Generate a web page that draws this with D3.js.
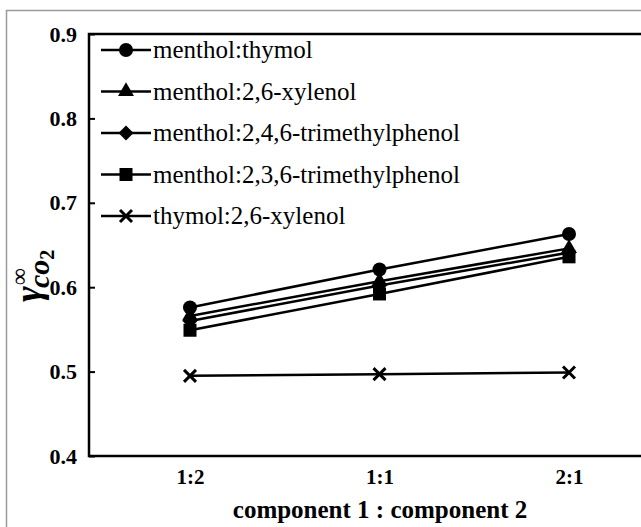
<!DOCTYPE html>
<html>
<head>
<meta charset="utf-8">
<script src="https://cdn.jsdelivr.net/npm/d3@7"></script>
<style>
  html, body { margin: 0; padding: 0; background: #fff; }
  svg { display: block; }
</style>
</head>
<body>
<div id="chart"></div>
<script>
const ratios = ["1:2", "1:1", "2:1"];
const seriesNames = [
  "menthol:thymol",
  "menthol:2,6-xylenol",
  "menthol:2,4,6-trimethylphenol",
  "menthol:2,3,6-trimethylphenol",
  "thymol:2,6-xylenol"
];
const markers = ["circle", "triangle", "diamond", "square", "cross"];
const thymolVals = [0.576, 0.621, 0.663];
const xylenolVals = [0.566, 0.607, 0.646];
const trimethyl246Vals = [0.560, 0.602, 0.641];
const trimethyl236Vals = [0.549, 0.592, 0.636];
const thymolXylenolVals = [0.495, 0.497, 0.499];
const seriesValues = [thymolVals, xylenolVals, trimethyl246Vals, trimethyl236Vals, thymolXylenolVals];
const yTicks = [0.4, 0.5, 0.6, 0.7, 0.8, 0.9];

const width = 641, height = 527;
const svg = d3.select("#chart").append("svg")
    .attr("width", width)
    .attr("height", height);

// outer grey frame (cropped at right/bottom)
svg.append("rect")
    .attr("x", 6.5).attr("y", 10.5)
    .attr("width", 700).attr("height", 600)
    .attr("fill", "none")
    .attr("stroke", "#9a9a9a")
    .attr("stroke-width", 1.5);

const plotL = 89, plotT = 34, plotB = 456, plotR = 675;

// category centres sit ~190px apart, first one ~100px right of the axis
const x = d3.scalePoint().domain(ratios).range([plotL + 101, plotL + 480]);
const y = d3.scaleLinear().domain([0.4, 0.9]).range([plotB, plotT]);

const serif = "'Liberation Serif', 'Times New Roman', serif";

// plot frame
svg.append("rect")
    .attr("x", plotL).attr("y", plotT)
    .attr("width", plotR - plotL).attr("height", plotB - plotT)
    .attr("fill", "none")
    .attr("stroke", "#000")
    .attr("stroke-width", 2.5);

// y axis
const yAxis = svg.append("g")
    .attr("transform", `translate(${plotL},0)`)
    .call(d3.axisLeft(y).tickValues(yTicks).tickFormat(d3.format(".1f")).tickSize(-6).tickPadding(12));
yAxis.select(".domain").remove();
yAxis.selectAll(".tick line").attr("stroke-width", 2);
yAxis.selectAll("text")
    .attr("font-family", serif)
    .attr("font-weight", "bold")
    .attr("font-size", 22)
    .attr("fill", "#000");

// x axis
const xAxis = svg.append("g")
    .attr("transform", `translate(0,${plotB})`)
    .call(d3.axisBottom(x).tickSize(0).tickPadding(13));
xAxis.select(".domain").remove();
xAxis.selectAll("text")
    .attr("font-family", serif)
    .attr("font-weight", "bold")
    .attr("font-size", 21)
    .attr("fill", "#000");

// x label
svg.append("text")
    .attr("x", 380).attr("y", 518)
    .attr("text-anchor", "middle")
    .attr("font-family", serif)
    .attr("font-weight", "bold")
    .attr("font-size", 25)
    .text("component 1 : component 2");

// y label: gamma, infinity superscript, co2 subscript
const yl = svg.append("text")
    .attr("transform", "translate(41,302) rotate(-90)")
    .attr("font-family", serif)
    .attr("font-weight", "bold")
    .attr("font-style", "italic")
    .attr("font-size", 38);
yl.append("tspan").text("γ");
yl.append("tspan").attr("font-size", 24).attr("font-style", "normal").attr("font-weight", "normal")
    .attr("dy", -14).attr("dx", 1).text("∞");
yl.append("tspan").attr("font-size", 30).attr("dy", 22).attr("dx", -20).text("co");
yl.append("tspan").attr("font-size", 20).attr("font-style", "normal").attr("dy", 5).text("2");

function drawMarker(g, type, cx, cy) {
  if (type === "circle") {
    g.append("circle").attr("cx", cx).attr("cy", cy).attr("r", 7).attr("fill", "#000");
  } else if (type === "triangle") {
    g.append("path").attr("d", d3.symbol().type(d3.symbolTriangle).size(110)())
      .attr("transform", `translate(${cx},${cy})`).attr("fill", "#000");
  } else if (type === "diamond") {
    g.append("path").attr("d", `M0,-7.5L7.5,0L0,7.5L-7.5,0Z`)
      .attr("transform", `translate(${cx},${cy})`).attr("fill", "#000");
  } else if (type === "square") {
    g.append("rect").attr("x", cx - 6.5).attr("y", cy - 6.5).attr("width", 13).attr("height", 13).attr("fill", "#000");
  } else {
    g.append("path").attr("d", "M-6,-6L6,6M-6,6L6,-6")
      .attr("transform", `translate(${cx},${cy})`)
      .attr("stroke", "#000").attr("stroke-width", 3);
  }
}

const line = d3.line().x((d, i) => x(ratios[i])).y(d => y(d));

seriesValues.forEach((vals, si) => {
  const g = svg.append("g");
  g.append("path")
    .attr("d", line(vals))
    .attr("fill", "none")
    .attr("stroke", "#000")
    .attr("stroke-width", 2.5);
  vals.forEach((v, i) => drawMarker(g, markers[si], x(ratios[i]), y(v)));
});

// legend
const legend = svg.append("g");
seriesNames.forEach((name, i) => {
  const ly = 50 + i * 41.5;
  const g = legend.append("g");
  g.append("line")
    .attr("x1", 101).attr("x2", 151)
    .attr("y1", ly).attr("y2", ly)
    .attr("stroke", "#000").attr("stroke-width", 2.5);
  drawMarker(g, markers[i], 126, ly);
  g.append("text")
    .attr("x", 153).attr("y", ly + 8)
    .attr("font-family", serif)
    .attr("font-size", 25)
    .text(name);
});
</script>
</body>
</html>
